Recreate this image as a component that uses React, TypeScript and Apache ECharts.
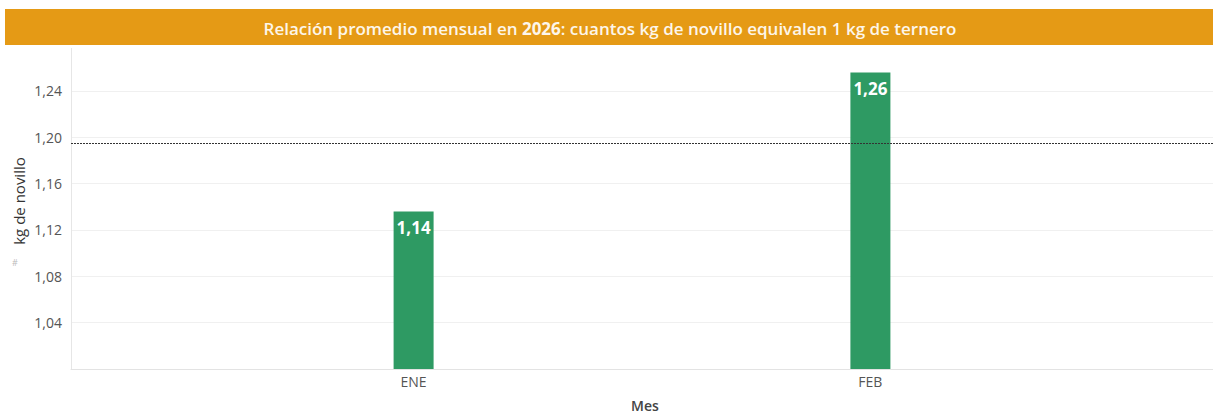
import React, { useEffect, useRef } from "react";
import * as echarts from "echarts";

const months = ["ENE", "FEB"];
const ratios = [1.136, 1.256];
const referenceValue = 1.195;
const titleText = "Relación promedio mensual en {b|2026}: cuantos kg de novillo equivalen 1 kg de ternero";
const yAxisName = "kg de novillo";
const xAxisName = "Mes";

// slots on the category axis: blank, ENE, blank, FEB, blank
const slots = ["", months[0], "", months[1], ""];
const slotValues = slots.map((s) => {
  const i = months.indexOf(s);
  return i >= 0 ? ratios[i] : null;
});

const fmt = (v: number) => (Math.round(v * 100) / 100).toFixed(2).replace(".", ",");

export default function App() {
  const ref = useRef<HTMLDivElement>(null);
  useEffect(() => {
    document.body.style.margin = "0";
    const chart = echarts.init(ref.current!, null, { renderer: "svg" });
    const font = "'Open Sans', 'Noto Sans', sans-serif";
    chart.setOption({
      animation: false,
      backgroundColor: "#ffffff",
      textStyle: { fontFamily: font },
      graphic: [
        {
          type: "rect",
          left: 5,
          top: 9,
          shape: { width: 1208, height: 36 },
          style: { fill: "#E59A15" },
          silent: true,
        },
        {
          type: "text",
          x: 610,
          y: 28,
          style: {
            text: titleText,
            fill: "#fdf6ea",
            font: `600 17px ${font}`,
            align: "center",
            verticalAlign: "middle",
            rich: {
              b: { fontWeight: "bold", fontSize: 17, fill: "#fdf6ea", fontFamily: font },
            },
          },
        },
        {
          type: "line",
          shape: { x1: 71.5, y1: 48, x2: 71.5, y2: 55 },
          style: { stroke: "#e6e6e6", lineWidth: 1 },
          silent: true,
        },
        {
          type: "text",
          x: 19,
          y: 201,
          rotation: Math.PI / 2,
          style: {
            text: yAxisName,
            fill: "#333",
            font: `15px ${font}`,
            align: "center",
            verticalAlign: "middle",
          },
        },
        {
          type: "text",
          x: 645,
          y: 405,
          style: {
            text: xAxisName,
            fill: "#444",
            font: `600 14px ${font}`,
            align: "center",
            verticalAlign: "middle",
          },
        },
        {
          type: "text",
          x: 15,
          y: 262,
          style: { text: "#", fill: "#bbbbbb", font: `9px ${font}`, align: "center", verticalAlign: "middle" },
        },
      ],
      grid: { left: 71, right: 0, top: 55, bottom: 47, outerBoundsMode: "none" },
      xAxis: {
        type: "category",
        data: slots,
        axisLine: { show: true, lineStyle: { color: "#e3e3e3" } },
        axisTick: { show: false },
        axisLabel: { color: "#555", fontSize: 14, margin: 5, interval: 0 },
        splitLine: { show: false },
      },
      yAxis: {
        type: "value",
        min: 1,
        max: 1.271,
        interval: 0.04,
        axisLine: { show: true, lineStyle: { color: "#e6e6e6" } },
        axisTick: { show: false },
        axisLabel: {
          color: "#555",
          fontSize: 14,
          margin: 9,
          showMinLabel: false,
          showMaxLabel: false,
          formatter: (v: number) => fmt(v),
        },
        splitLine: {
          show: true,
          showMinLine: false,
          showMaxLine: false,
          lineStyle: { color: "#f0f0f0" },
        },
      },
      series: [
        {
          type: "bar",
          data: slotValues,
          barWidth: 40,
          itemStyle: { color: "#2E9A63" },
          label: {
            show: true,
            position: "insideTop",
            distance: 8,
            color: "#ffffff",
            fontSize: 17,
            fontWeight: "bold",
            formatter: (p: any) => fmt(p.value),
          },
          markLine: {
            silent: true,
            symbol: "none",
            precision: 4,
            z: 10,
            label: { show: false },
            lineStyle: { color: "#333", type: [2, 1], width: 1 },
            data: [{ yAxis: referenceValue }],
          },
        },
      ],
    });
    return () => chart.dispose();
  }, []);
  return <div ref={ref} style={{ width: 1213, height: 416 }} />;
}
